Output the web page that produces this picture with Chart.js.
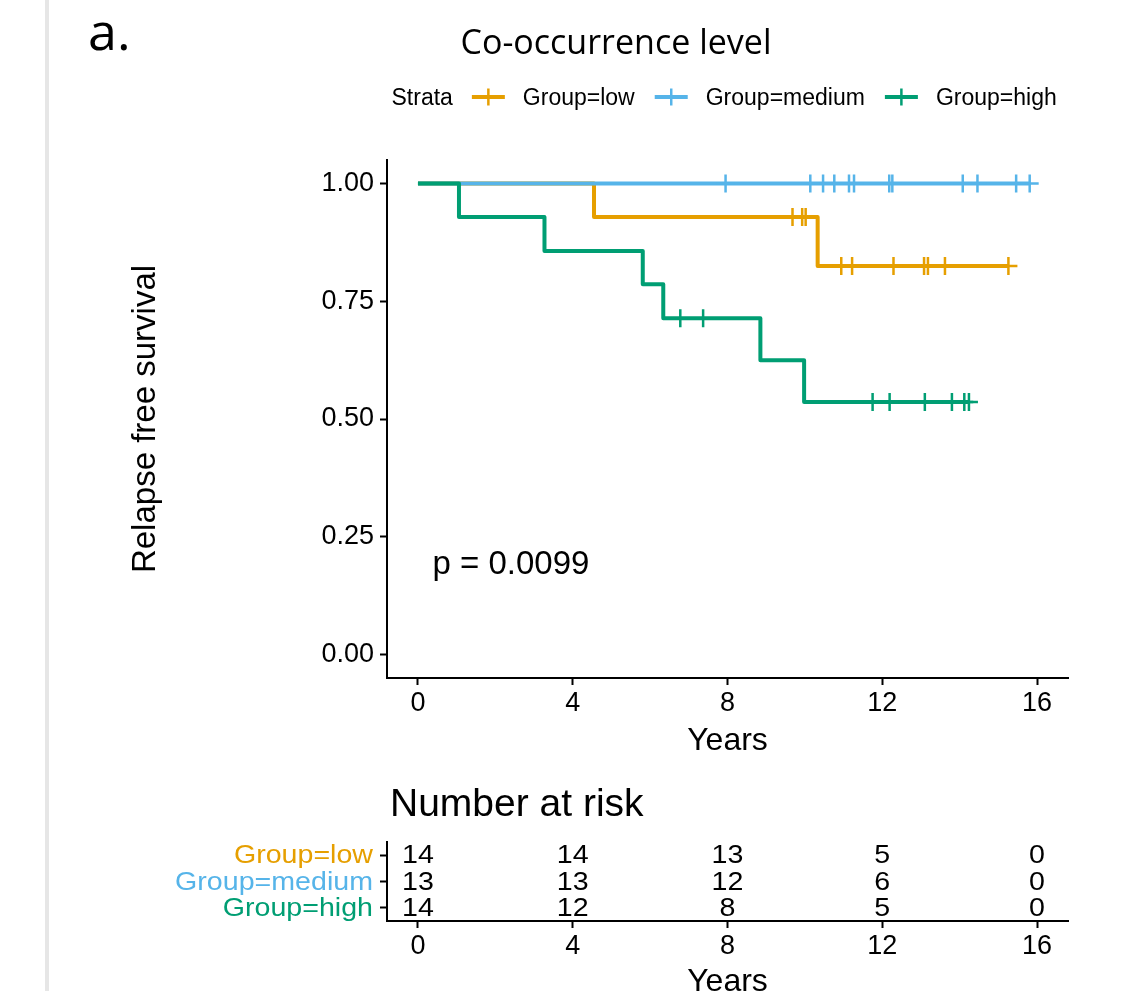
<!DOCTYPE html>
<html>
<head>
<meta charset="utf-8">
<title>Relapse free survival by co-occurrence level</title>
<script src="https://cdn.jsdelivr.net/npm/chart.js@4.4.1/dist/chart.umd.min.js"></script>
<style>
  html, body { margin: 0; padding: 0; background: #fff; overflow: hidden; }
  body { width: 1141px; height: 991px; position: relative; }
  .side-bar { position: absolute; left: 45px; top: 0; width: 4px; height: 991px; background: #e6e6e6; }
  .wrap { position: absolute; left: 0; }
  #km-wrap { top: 0; }
  #risk-wrap { top: 770px; }
</style>
</head>
<body>
<div class="side-bar"></div>
<div class="wrap" id="km-wrap"><canvas id="chart-km" width="1141" height="770"></canvas></div>
<div class="wrap" id="risk-wrap"><canvas id="chart-risk" width="1141" height="241"></canvas></div>

<script>
'use strict';

/* ===================================================
   Data
   =================================================== */
const groupNames  = ['Group=low', 'Group=medium', 'Group=high'];
const groupColors = ['#E69F00', '#56B4E9', '#009E73'];

// KM steps: time of each drop and the survival right after it
const lowTimes = [0, 4.55, 10.33, 15.26];
const lowSurv  = [1, 0.929, 0.825, 0.825];
const lowCensorTimes = [9.68, 9.93, 10.02, 10.94, 11.22, 12.29, 13.08, 13.18, 13.62, 15.26];
const lowCensorSurv  = [0.929, 0.929, 0.929, 0.825, 0.825, 0.825, 0.825, 0.825, 0.825, 0.825];

const mediumTimes = [0, 15.81];
const mediumSurv  = [1, 1];
const mediumCensorTimes = [7.95, 10.14, 10.47, 10.76, 11.14, 11.27, 12.18, 12.26, 14.08, 14.46, 15.46, 15.81];
const mediumCensorSurv  = [1, 1, 1, 1, 1, 1, 1, 1, 1, 1, 1, 1];

const highTimes = [0, 1.06, 3.27, 5.81, 6.34, 8.85, 9.98, 14.24];
const highSurv  = [1, 0.929, 0.857, 0.786, 0.714, 0.625, 0.536, 0.536];
const highCensorTimes = [6.78, 7.37, 11.75, 12.19, 13.10, 13.80, 14.12, 14.24];
const highCensorSurv  = [0.714, 0.714, 0.536, 0.536, 0.536, 0.536, 0.536, 0.536];

const xTickValues = [0, 4, 8, 12, 16];
const yTickValues = [0, 0.25, 0.5, 0.75, 1];

const riskTimes  = [0, 4, 8, 12, 16];
const riskLow    = [14, 14, 13, 5, 0];
const riskMedium = [13, 13, 12, 6, 0];
const riskHigh   = [14, 12, 8, 5, 0];

const pValueText = 'p = 0.0099';

/* ===================================================
   Shared helpers
   =================================================== */
const FONT = '"Liberation Sans", Arial, Helvetica, sans-serif';
const TITLE_FONT = '"Open Sans", "Noto Sans", sans-serif';
const TABLE_STRETCH = 1.1;

function toPoints(xs, ys) {
  return xs.map((x, i) => ({ x: x, y: ys[i] }));
}

function xAxis(height) {
  return {
    type: 'linear',
    min: -0.8, max: 16.8,
    afterBuildTicks: s => { s.ticks = xTickValues.map(v => ({ value: v })); },
    afterFit: s => { s.height = height; },
    grid: { drawOnChartArea: false, drawTicks: true, tickLength: 7, tickWidth: 2, tickColor: '#000' },
    border: { display: true, color: '#000', width: 2 },
    ticks: { color: '#000', font: { family: FONT, size: 27 }, padding: 2, maxRotation: 0 },
    title: { display: true, text: 'Years', color: '#000', font: { family: FONT, size: 32 }, padding: 0 }
  };
}

function curve(label, xs, ys, color, order) {
  return {
    label: label,
    data: toPoints(xs, ys),
    stepped: 'before',
    borderColor: color,
    borderWidth: 4,
    borderJoinStyle: 'round',
    pointRadius: 0,
    fill: false,
    order: order
  };
}

function censors(label, xs, ys, color, order) {
  return {
    label: label + ' censored',
    data: toPoints(xs, ys),
    showLine: false,
    pointStyle: 'cross',
    pointRadius: 9,
    pointBorderWidth: 2.5,
    borderColor: color,
    backgroundColor: color,
    order: order
  };
}

function stretchedText(ctx, text, x, y, align, sx) {
  ctx.save();
  ctx.translate(x, y);
  ctx.scale(sx, 1);
  ctx.textAlign = align;
  ctx.fillText(text, 0, 0);
  ctx.restore();
}

/* ===================================================
   1. Kaplan-Meier panel
   =================================================== */
const kmDecorations = {
  id: 'kmDecorations',
  afterDraw(chart) {
    const ctx = chart.ctx;
    ctx.save();
    ctx.fillStyle = '#000';
    ctx.textBaseline = 'alphabetic';

    // panel letter + title
    ctx.font = '52px ' + TITLE_FONT;
    ctx.textAlign = 'left';
    ctx.fillText('a.', 88, 50);
    ctx.font = '34px ' + TITLE_FONT;
    ctx.textAlign = 'center';
    ctx.fillText('Co-occurrence level', 616, 54);

    // legend
    ctx.font = '23px ' + FONT;
    ctx.textAlign = 'left';
    const ly = 105;
    let lx = 391.5;
    ctx.fillText('Strata', lx, ly);
    lx += ctx.measureText('Strata').width + 19;
    groupNames.forEach((name, i) => {
      const my = ly - 8;
      ctx.strokeStyle = groupColors[i];
      ctx.lineWidth = 4;
      ctx.beginPath(); ctx.moveTo(lx, my); ctx.lineTo(lx + 33, my); ctx.stroke();
      ctx.lineWidth = 2.5;
      ctx.beginPath(); ctx.moveTo(lx + 16.5, my - 8.5); ctx.lineTo(lx + 16.5, my + 8.5); ctx.stroke();
      lx += 33 + 18;
      ctx.fillStyle = '#000';
      ctx.fillText(name, lx, ly);
      lx += ctx.measureText(name).width + 20;
    });

    // log-rank p value
    ctx.font = '33px ' + FONT;
    ctx.fillText(pValueText, 432.5, 574);
    ctx.restore();
  }
};

function initKmChart() {
  const ctx = document.getElementById('chart-km').getContext('2d');
  return new Chart(ctx, {
    type: 'line',
    data: {
      datasets: [
        curve(groupNames[0], lowTimes, lowSurv, groupColors[0], 6),
        censors(groupNames[0], lowCensorTimes, lowCensorSurv, groupColors[0], 5),
        curve(groupNames[1], mediumTimes, mediumSurv, groupColors[1], 4),
        censors(groupNames[1], mediumCensorTimes, mediumCensorSurv, groupColors[1], 3),
        curve(groupNames[2], highTimes, highSurv, groupColors[2], 2),
        censors(groupNames[2], highCensorTimes, highCensorSurv, groupColors[2], 1)
      ]
    },
    options: {
      responsive: false,
      animation: false,
      layout: { padding: { left: 126, top: 160, right: 73, bottom: 10 } },
      plugins: { legend: { display: false }, tooltip: { enabled: false } },
      scales: {
        x: xAxis(82),
        y: {
          type: 'linear',
          min: -0.05, max: 1.05,
          afterBuildTicks: s => { s.ticks = yTickValues.map(v => ({ value: v })); },
          afterFit: s => { s.width = 261; },
          grid: { drawOnChartArea: false, drawTicks: true, tickLength: 7, tickWidth: 2, tickColor: '#000' },
          border: { display: true, color: '#000', width: 2 },
          ticks: { color: '#000', font: { family: FONT, size: 27 }, padding: 6, callback: v => v.toFixed(2) },
          title: { display: true, text: 'Relapse free survival', color: '#000', font: { family: FONT, size: 33 }, padding: 0 }
        }
      }
    },
    plugins: [kmDecorations]
  });
}

/* ===================================================
   2. Number at risk table
   =================================================== */
const riskCounts = [riskLow, riskMedium, riskHigh];

const riskText = {
  id: 'riskText',
  afterDraw(chart) {
    const ctx = chart.ctx;
    const yScale = chart.scales.y;
    ctx.save();
    ctx.fillStyle = '#000';
    ctx.font = '39px ' + FONT;
    ctx.textAlign = 'left';
    ctx.textBaseline = 'alphabetic';
    ctx.fillText('Number at risk', 390, 46);

    ctx.font = '26px ' + FONT;
    ctx.textBaseline = 'middle';
    groupNames.forEach((name, i) => {
      const y = yScale.getPixelForTick(i) + 1;
      ctx.fillStyle = groupColors[i];
      stretchedText(ctx, name, yScale.right - 14, y, 'right', TABLE_STRETCH);
      ctx.fillStyle = '#000';
      chart.getDatasetMeta(i).data.forEach((pt, j) => {
        stretchedText(ctx, String(riskCounts[i][j]), pt.x, pt.y + 1, 'center', TABLE_STRETCH);
      });
    });
    ctx.restore();
  }
};

function initRiskChart() {
  const ctx = document.getElementById('chart-risk').getContext('2d');
  return new Chart(ctx, {
    type: 'line',
    data: {
      datasets: groupNames.map((name, i) => ({
        label: name,
        data: riskTimes.map(t => ({ x: t, y: name })),
        showLine: false,
        pointRadius: 0
      }))
    },
    options: {
      responsive: false,
      animation: false,
      layout: { padding: { left: 126, top: 72, right: 73, bottom: 10 } },
      plugins: { legend: { display: false }, tooltip: { enabled: false } },
      scales: {
        x: xAxis(80),
        y: {
          type: 'category',
          labels: groupNames,
          offset: true,
          afterFit: s => { s.width = 261; },
          grid: { drawOnChartArea: false, drawTicks: true, tickLength: 7, tickWidth: 2, tickColor: '#000', offset: false },
          border: { display: true, color: '#000', width: 2 },
          ticks: { display: false }
        }
      }
    },
    plugins: [riskText]
  });
}

initKmChart();
initRiskChart();
</script>
</body>
</html>
